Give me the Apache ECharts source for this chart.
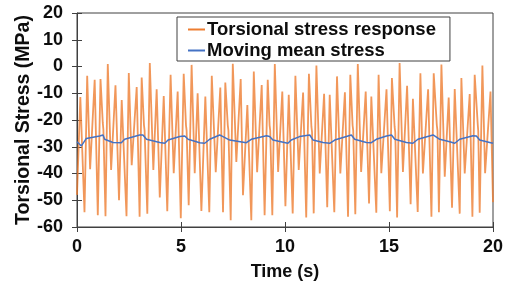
<!DOCTYPE html>
<html>
<head>
<meta charset="utf-8">
<script src="https://cdn.jsdelivr.net/npm/echarts@6/dist/echarts.min.js"></script>
<style>
  html, body { margin: 0; padding: 0; background: #fff; }
  #chart { width: 510px; height: 287px; }
</style>
</head>
<body>
<div id="chart"></div>
<script>
// torsional stress response (peaks / troughs)
const stressTime = [
  0, 0.16, 0.36, 0.49, 0.63, 0.85, 1.0, 1.13, 1.24, 1.27, 1.37, 1.48, 1.64, 1.85, 2.02, 2.15, 2.38, 2.49, 2.63, 2.87,
  3.01, 3.11, 3.22, 3.25, 3.38, 3.5, 3.67, 3.83, 3.98, 4.17, 4.34, 4.5, 4.65, 4.84, 4.99, 5.13, 5.24, 5.27, 5.37, 5.51,
  5.66, 5.8, 5.98, 6.17, 6.36, 6.48, 6.67, 6.89, 7.02, 7.13, 7.25, 7.28, 7.39, 7.49, 7.66, 7.87, 7.98, 8.19, 8.38, 8.5,
  8.66, 8.88, 9.02, 9.17, 9.26, 9.29, 9.39, 9.51, 9.67, 9.87, 10.02, 10.18, 10.37, 10.5, 10.66, 10.87, 11.02, 11.15, 11.27, 11.3,
  11.38, 11.51, 11.67, 11.88, 12.03, 12.15, 12.37, 12.5, 12.66, 12.88, 13.03, 13.14, 13.25, 13.28, 13.38, 13.5, 13.66, 13.88, 14.04, 14.15,
  14.39, 14.5, 14.63, 14.88, 15.04, 15.14, 15.27, 15.3, 15.39, 15.51, 15.67, 15.87, 16.04, 16.15, 16.38, 16.51, 16.63, 16.88, 17.04, 17.15,
  17.3, 17.33, 17.4, 17.52, 17.68, 17.87, 18.03, 18.16, 18.4, 18.48, 18.64, 18.88, 19.01, 19.12, 19.27, 19.29, 19.36, 19.49, 19.62, 19.88,
  20
];
const stressValue = [
  -48, -11.4, -54.5, -3.5, -38.4, -5, -55.6, -4.7, -21.1, -23.7, -56, 0.9, -38.7, -7, -50, -12.5, -56, -2.4, -36.9, -7.7,
  -56.2, -4.1, -21.9, -24, -55, 1.3, -38.7, -8.5, -49, -11, -54.1, -3.1, -39.9, -9.4, -56.7, -2.7, -22, -24, -51.9, 0.6,
  -39.9, -10, -54, -11.2, -54.5, -3.5, -39.5, -7.9, -54.5, -6, -22, -24, -57.5, 1, -35.7, -4.7, -48.1, -14.4, -57.5, -1.9,
  -39.5, -6.9, -55.6, -5, -22, -24, -55.6, 0.9, -39.4, -9.4, -52.2, -10.6, -54.9, -3.5, -38.7, -9.7, -56.4, -2.7, -22.5, -24.5,
  -54.9, 0.4, -40, -10.2, -52.6, -10.6, -54.5, -3.7, -40, -9.6, -56.2, -3.1, -22, -24, -55.2, 0.9, -39.4, -9.4, -51.2, -11.2,
  -54.7, -3.1, -39.9, -8.5, -54.1, -4.3, -22.6, -24.5, -56.4, 1.3, -39.4, -7.2, -51.5, -12.1, -54.4, -2.5, -40, -8.5, -56.2, -2.5,
  -22, -24, -54.5, 0.75, -41.2, -11.6, -52.8, -8.4, -55, -4.3, -40, -10.3, -56.2, -3.1, -22, -24, -54.7, 0.4, -39.9, -9.4,
  -50.7
];

// moving mean stress
const meanTime = [
  0, 0.21, 0.45, 1.09, 1.25, 1.33, 1.73, 2.13, 2.29, 3.01, 3.17, 3.34, 3.98, 4.22, 4.38, 4.94, 5.18, 5.34, 5.9, 6.14,
  6.38, 6.86, 7.02, 7.34, 8.14, 8.38, 9.11, 9.26, 9.42, 10.14, 10.3, 10.7, 11.19, 11.35, 11.83, 12.15, 12.39, 12.95, 13.19, 13.35,
  13.91, 14.15, 14.39, 14.88, 15.12, 15.28, 15.84, 16.15, 16.39, 17.12, 17.2, 17.44, 17.92, 18.16, 18.4, 19.04, 19.2, 19.36, 19.84, 20
];
const meanValue = [
  -28.1, -29.7, -26.9, -26, -25.6, -27.2, -28.4, -28.5, -27.2, -25.6, -25.6, -27.2, -28.4, -28.7, -27.5, -26.2, -26, -27.2, -28.5, -28.7,
  -27.2, -25.6, -26.2, -27.5, -28.5, -27.2, -25.9, -26.2, -27.5, -28.7, -27.5, -26.2, -25.6, -27.5, -28.4, -28.7, -27.5, -26.2, -25.6, -27.2,
  -28.4, -28.5, -27.2, -26, -25.6, -27.2, -28.4, -28.7, -27.2, -25.6, -25.2, -27.2, -28.1, -28.7, -27.2, -25.9, -26, -27.5, -28.4, -28.7
];

const seriesNames = ['Torsional stress response', 'Moving mean stress'];

const FONT = '"Liberation Sans", Arial, sans-serif';
const AXIS_COLOR = '#404040';
const TEXT_COLOR = '#0d0d0d';

const stressData = stressTime.map((t, i) => [t, stressValue[i]]);
const meanData = meanTime.map((t, i) => [t, meanValue[i]]);

const chart = echarts.init(document.getElementById('chart'));

// shared scale settings; the second axis of each pair only draws the inner half of the ticks
const xScale = { type: 'value', min: 0, max: 20, interval: 5 };
const yScale = { type: 'value', min: -60, max: 20, interval: 10 };

chart.setOption({
  animation: false,
  backgroundColor: '#fff',
  grid: {
    left: 77, right: 17, top: 13, bottom: 60,
    outerBoundsMode: 'none',
    show: true, borderColor: AXIS_COLOR, borderWidth: 1, backgroundColor: 'transparent'
  },
  legend: {
    data: seriesNames,
    orient: 'vertical',
    left: 177, top: 17,
    padding: [3, 14, 1, 11],
    itemGap: 2,
    itemWidth: 17, itemHeight: 2,
    icon: 'rect',
    borderColor: AXIS_COLOR, borderWidth: 1,
    backgroundColor: '#fff',
    textStyle: { fontFamily: FONT, fontWeight: 'bold', fontSize: 18.5, color: TEXT_COLOR, lineHeight: 18, padding: [0, 0, 0, -3] }
  },
  xAxis: [
    Object.assign({}, xScale, {
      name: 'Time (s)', nameLocation: 'middle', nameGap: 36, nameMoveOverlap: false,
      nameTextStyle: { fontFamily: FONT, fontWeight: 'bold', fontSize: 18, color: TEXT_COLOR },
      axisLine: { onZero: false, lineStyle: { color: AXIS_COLOR, width: 1 } },
      axisTick: { inside: false, length: 5, lineStyle: { color: AXIS_COLOR } },
      axisLabel: { margin: 11, fontFamily: FONT, fontWeight: 'bold', fontSize: 18, color: TEXT_COLOR },
      splitLine: { show: false }
    }),
    Object.assign({}, xScale, {
      position: 'bottom',
      axisLine: { show: false, onZero: false },
      axisTick: { inside: true, length: 5, lineStyle: { color: AXIS_COLOR } },
      axisLabel: { show: false },
      splitLine: { show: false }
    })
  ],
  yAxis: [
    Object.assign({}, yScale, {
      name: 'Torsional Stress (MPa)', nameLocation: 'middle', nameGap: 43, nameMoveOverlap: false,
      nameTextStyle: { fontFamily: FONT, fontWeight: 'bold', fontSize: 19.5, color: TEXT_COLOR },
      axisLine: { onZero: false, lineStyle: { color: AXIS_COLOR, width: 1 } },
      axisTick: { inside: false, length: 5, lineStyle: { color: AXIS_COLOR } },
      axisLabel: { margin: 14, fontFamily: FONT, fontWeight: 'bold', fontSize: 18, color: TEXT_COLOR },
      splitLine: { show: false }
    }),
    Object.assign({}, yScale, {
      position: 'left',
      axisLine: { show: false, onZero: false },
      axisTick: { inside: true, length: 5, lineStyle: { color: AXIS_COLOR } },
      axisLabel: { show: false },
      splitLine: { show: false }
    })
  ],
  series: [
    {
      name: seriesNames[0],
      type: 'line',
      data: stressData,
      showSymbol: false,
      symbol: 'none',
      color: '#ED7D31',
      lineStyle: { color: '#ED7D31', width: 1.8, opacity: 0.8 },
      z: 2
    },
    {
      name: seriesNames[1],
      type: 'line',
      data: meanData,
      showSymbol: false,
      symbol: 'none',
      color: '#4472C4',
      lineStyle: { color: '#4472C4', width: 1.5 },
      z: 3
    }
  ]
});
</script>
</body>
</html>
